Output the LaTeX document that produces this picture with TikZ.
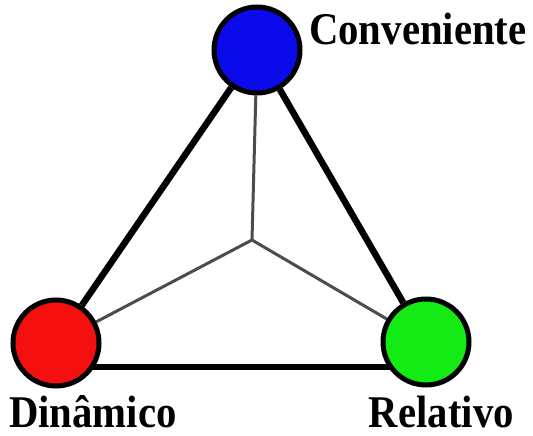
\documentclass[tikz,border=0pt]{standalone}
\usepackage{fontspec}
\setmainfont{Liberation Serif}
\usetikzlibrary{backgrounds}
\newcommand{\lbltext}[1]{\scalebox{0.97}[1.08]{#1}}
\begin{document}
\begin{tikzpicture}[x=1pt,y=-1pt,
  ball/.style={circle,draw=black,line width=5pt,minimum size=86pt,inner sep=0pt},
  thick line/.style={line width=6.5pt,black},
  thin line/.style={line width=3pt,black!70},
  lbl/.style={font=\fontsize{42}{46}\selectfont\bfseries,inner sep=0pt}]
\definecolor{cblue}{RGB}{10,10,235}
\definecolor{cred}{RGB}{245,15,15}
\definecolor{cgreen}{RGB}{20,235,20}
\useasboundingbox (0,0) rectangle (533,436);
\coordinate (c) at (252,240);
\coordinate (bl) at (56,367);
\coordinate (br) at (426,367);
\node[ball,fill=cblue] (blue) at (257,50) {};
\node[ball,fill=cred] (red) at (56,343) {};
\node[ball,fill=cgreen] (green) at (426,342) {};
\begin{scope}[on background layer]
\fill[white] (0,0) rectangle (533,436);
\draw[thin line] (c) -- (blue);
\draw[thin line] (c) -- (red);
\draw[thin line] (c) -- (green);
\draw[thick line] (red) -- (blue);
\draw[thick line] (green) -- (blue);
\draw[thick line] (bl) -- (br);
\end{scope}
\node[lbl,anchor=base west] (lc) at (309,45) {\lbltext{Conveniente}};
\node[lbl,anchor=base west] (ld) at (9,427) {\lbltext{Dinâmico}};
\node[lbl,anchor=base east] (lr) at (514,427) {\lbltext{Relativo}};
\end{tikzpicture}
\end{document}
